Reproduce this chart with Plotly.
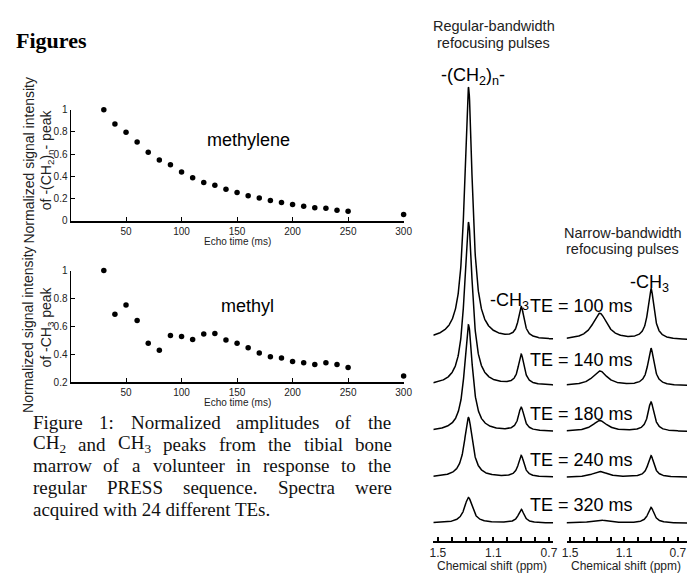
import re
import numpy as np
import plotly.graph_objects as go

# The page body has an 8 px margin, so the figure is drawn 8 px in from the
# top-left corner; coordinates below are measured on the full 699x580 window.
OFF = 8
W, H = 699 - OFF, 580 - OFF

# ---------------- data ----------------
echo_time_ms = [30, 40, 50, 60, 70, 80, 90, 100, 110, 120, 130, 140, 150, 160,
                170, 180, 190, 200, 210, 220, 230, 240, 250, 300]
methylene_norm = [1.0, 0.871, 0.797, 0.709, 0.615, 0.547, 0.503, 0.438, 0.385, 0.344,
                  0.318, 0.282, 0.253, 0.224, 0.203, 0.182, 0.162, 0.144, 0.129, 0.115,
                  0.112, 0.094, 0.085, 0.055]
methyl_norm = [1.0, 0.687, 0.752, 0.642, 0.478, 0.429, 0.534, 0.527, 0.506, 0.544,
               0.549, 0.502, 0.478, 0.446, 0.408, 0.382, 0.373, 0.347, 0.338, 0.326,
               0.338, 0.326, 0.305, 0.244]
echo_ticks = [50, 100, 150, 200, 250, 300]
methylene_yticks = [0, 0.2, 0.4, 0.6, 0.8, 1]
methylene_ylabels = ["0", "0.2", "0.4", "0.6", "0.8", "1"]
methyl_yticks = [0.2, 0.4, 0.6, 0.8, 1]
methyl_ylabels = ["0.2", "0.4", "0.6", "0.8", "1"]

spectra_te_labels = ["TE = 100 ms", "TE = 140 ms", "TE = 180 ms", "TE = 240 ms", "TE = 320 ms"]
# peak amplitudes (relative to CH2 peak at TE = 100 ms, regular pulses)
regular_ch2_amp = [1.0, 0.647, 0.422, 0.236, 0.101]
regular_ch3_amp = [0.124, 0.120, 0.093, 0.085, 0.054]
narrow_ch2_amp = [0.105, 0.058, 0.043, 0.023, 0.012]
narrow_ch3_amp = [0.202, 0.147, 0.116, 0.085, 0.062]
ch2_ppm, ch3_ppm = 1.28, 0.90
regular_ch2_fwhm, regular_ch3_fwhm = 0.07, 0.05
narrow_ch2_fwhm, narrow_ch3_fwhm = 0.13, 0.055
shift_ticks = [1.5, 1.4, 1.3, 1.2, 1.1, 1.0, 0.9, 0.8, 0.7]
shift_labels = ["1.5", "", "", "", "1.1", "", "", "", "0.7"]

caption_lines = [
    ["Figure", "1:", "Normalized", "amplitudes", "of", "the"],
    ["CH<sub>2</sub>", "and", "CH<sub>3</sub>", "peaks", "from", "the", "tibial", "bone"],
    ["marrow", "of", "a", "volunteer", "in", "response", "to", "the"],
    ["regular", "PRESS", "sequence.", "Spectra", "were"],
    ["acquired with 24 different TEs."],
]

# ---------------- helpers ----------------
SANS = "Liberation Sans, Arial, sans-serif"
SERIF = "Liberation Serif, Times New Roman, serif"


def px(x):
    return (x - OFF) / W


def py(y):
    return 1 - (y - OFF) / H


def lorentz(x, x0, fwhm):
    return 1.0 / (1.0 + (2 * (x - x0) / fwhm) ** 2)


fig = go.Figure()

# ---------------- decay plots ----------------
fig.add_trace(go.Scatter(x=echo_time_ms, y=methylene_norm, mode="markers",
                         marker=dict(color="black", size=5.5), cliponaxis=False,
                         xaxis="x", yaxis="y", showlegend=False))
fig.add_trace(go.Scatter(x=echo_time_ms, y=methyl_norm, mode="markers",
                         marker=dict(color="black", size=5.5), cliponaxis=False,
                         xaxis="x2", yaxis="y2", showlegend=False))

# ---------------- spectra ----------------
unit_px = 258.0
spacing = 46.75 / unit_px
n_sp = len(spectra_te_labels)
ppm_reg = np.linspace(1.533, 0.670, 500)
ppm_nar = np.linspace(1.527, 0.632, 500)
for i in range(n_sp):
    off = (n_sp - 1 - i) * spacing
    yr = off + regular_ch2_amp[i] * lorentz(ppm_reg, ch2_ppm, regular_ch2_fwhm) \
        + regular_ch3_amp[i] * lorentz(ppm_reg, ch3_ppm, regular_ch3_fwhm)
    yn = off + narrow_ch2_amp[i] * lorentz(ppm_nar, ch2_ppm, narrow_ch2_fwhm) \
        + narrow_ch3_amp[i] * lorentz(ppm_nar, ch3_ppm, narrow_ch3_fwhm)
    fig.add_trace(go.Scatter(x=ppm_reg, y=yr, mode="lines",
                             line=dict(color="black", width=1.5),
                             xaxis="x3", yaxis="y3", showlegend=False))
    fig.add_trace(go.Scatter(x=ppm_nar, y=yn, mode="lines",
                             line=dict(color="black", width=1.5),
                             xaxis="x4", yaxis="y4", showlegend=False))

tickfont = dict(family=SANS, size=10, color="#222")
common_x = dict(showline=True, linecolor="black", linewidth=2, ticks="inside",
                ticklen=4, tickwidth=1, tickcolor="black", showgrid=False,
                zeroline=False, tickfont=tickfont, fixedrange=True)
common_y = dict(showline=True, linecolor="black", linewidth=1, ticks="inside",
                ticklen=4, tickwidth=1, tickcolor="black", showgrid=False,
                zeroline=False, tickfont=tickfont, fixedrange=True)

y_bot_px, y_top_px = 546, 78
base_px = 528
yr_lo = -(y_bot_px - base_px) / unit_px
yr_hi = (base_px - y_top_px) / unit_px

spec_x = dict(showline=True, linecolor="black", linewidth=2, ticks="inside",
              ticklen=4, tickwidth=1.5, tickcolor="black", showgrid=False,
              zeroline=False, tickvals=shift_ticks, ticktext=shift_labels,
              tickfont=dict(family=SANS, size=12, color="#222"), fixedrange=True)

fig.update_layout(
    width=W, height=H, autosize=False,
    margin=dict(l=0, r=0, t=0, b=0),
    paper_bgcolor="white", plot_bgcolor="rgba(0,0,0,0)",
    showlegend=False,
    xaxis=dict(domain=[px(66.7), px(406.7)], range=[0, 300], tickvals=echo_ticks,
               anchor="y", **common_x),
    yaxis=dict(domain=[py(219), py(105.7)], range=[0, 1], tickvals=methylene_yticks,
               ticktext=methylene_ylabels, anchor="x", **common_y),
    xaxis2=dict(domain=[px(66.7), px(406.7)], range=[0, 300], tickvals=echo_ticks,
                anchor="y2", **common_x),
    yaxis2=dict(domain=[py(384), py(270)], range=[0.2, 1], tickvals=methyl_yticks,
                ticktext=methyl_ylabels, anchor="x2", **common_y),
    xaxis3=dict(domain=[px(437), px(559.3)], range=[1.533, 0.670], anchor="y3", **spec_x),
    yaxis3=dict(domain=[py(y_bot_px), py(y_top_px)], range=[yr_lo, yr_hi], visible=False,
                anchor="x3", fixedrange=True),
    xaxis4=dict(domain=[px(573), px(696)], range=[1.527, 0.632], anchor="y4", **spec_x),
    yaxis4=dict(domain=[py(y_bot_px), py(y_top_px)], range=[yr_lo, yr_hi], visible=False,
                anchor="x4", fixedrange=True),
)

ann = []


def add_text(x, y, text, size, family=SANS, xanchor="center", yanchor="middle",
             angle=0, bold=False, color="black"):
    if bold:
        text = "<b>" + text + "</b>"
    ann.append(dict(x=px(x), y=py(y), xref="paper", yref="paper", text=text,
                    showarrow=False, xanchor=xanchor, yanchor=yanchor,
                    textangle=angle, font=dict(family=family, size=size, color=color)))


# Heading
add_text(9, 35, "Figures", 22, family=SERIF, xanchor="left", bold=True)

# Decay-plot labels
add_text(248, 137, "methylene", 18)
add_text(247, 306, "methyl", 18)
add_text(236.7, 240.5, "Echo time (ms)", 10, color="#222")
add_text(236.7, 405, "Echo time (ms)", 10, color="#222")
add_text(24, 157, "Normalized signal intensity", 14, angle=-90, color="#222")
add_text(43, 157, "of -(CH<sub>2</sub>)<sub>n</sub>- peak", 14, angle=-90, color="#222")
add_text(24, 330, "Normalized signal intensity", 14, angle=-90, color="#222")
add_text(43, 328, "of -CH<sub>3</sub> peak", 14, angle=-90, color="#222")

# Spectra labels
add_text(498.5, 20.7, "Regular-bandwidth", 14.5, color="#222")
add_text(498.5, 37.7, "refocusing pulses", 14.5, color="#222")
add_text(478, 72, "-(CH<sub>2</sub>)<sub>n</sub>-", 18)
add_text(631, 231.7, "Narrow-bandwidth", 14.5, color="#222")
add_text(630, 248.3, "refocusing pulses", 14.5, color="#222")
add_text(658, 283, "-CH<sub>3</sub>", 18)
add_text(537, 302, "-CH<sub>3</sub>", 18, xanchor="right")
te_y = [306, 361.7, 417, 463.3, 510]
for lab, yy in zip(spectra_te_labels, te_y):
    add_text(588, yy, lab, 18)
add_text(497, 572, "Chemical shift (ppm)", 12, color="#222")
add_text(634, 572, "Chemical shift (ppm)", 12, color="#222")

# Caption (justified by word placement)
TW = {' ': 250, 'a': 444, 'b': 500, 'c': 444, 'd': 500, 'e': 444, 'f': 333, 'g': 500,
      'h': 500, 'i': 278, 'j': 278, 'k': 500, 'l': 278, 'm': 778, 'n': 500, 'o': 500,
      'p': 500, 'q': 500, 'r': 333, 's': 389, 't': 278, 'u': 500, 'v': 500, 'w': 722,
      'x': 500, 'y': 500, 'z': 444, 'A': 722, 'C': 667, 'E': 611, 'F': 556, 'H': 722,
      'N': 722, 'P': 556, 'R': 667, 'S': 556, 'T': 611, ':': 278, '.': 250,
      '0': 500, '1': 500, '2': 500, '3': 500, '4': 500}


def word_w(wd, size):
    tot = 0.0
    for p in re.split(r"(<sub>.*?</sub>)", wd):
        if p.startswith("<sub>"):
            tot += sum(TW.get(c, 500) for c in p[5:-6]) * 0.7
        else:
            tot += sum(TW.get(c, 500) for c in p)
    return tot / 1000 * size


cap_size = 19
cap_left, cap_right = 26, 392
cap_y = [425, 447.3, 469.3, 491.7, 514]
for words, yy in zip(caption_lines, cap_y):
    if len(words) == 1:
        add_text(cap_left, yy, words[0], cap_size, family=SERIF, xanchor="left", color="#111")
        continue
    widths = [word_w(wd, cap_size) for wd in words]
    gap = (cap_right - cap_left - sum(widths)) / (len(words) - 1)
    xcur = cap_left
    for wd, ww in zip(words, widths):
        add_text(xcur, yy, wd, cap_size, family=SERIF, xanchor="left", color="#111")
        xcur += ww + gap

fig.update_layout(annotations=ann)
fig.write_html("out.html")
